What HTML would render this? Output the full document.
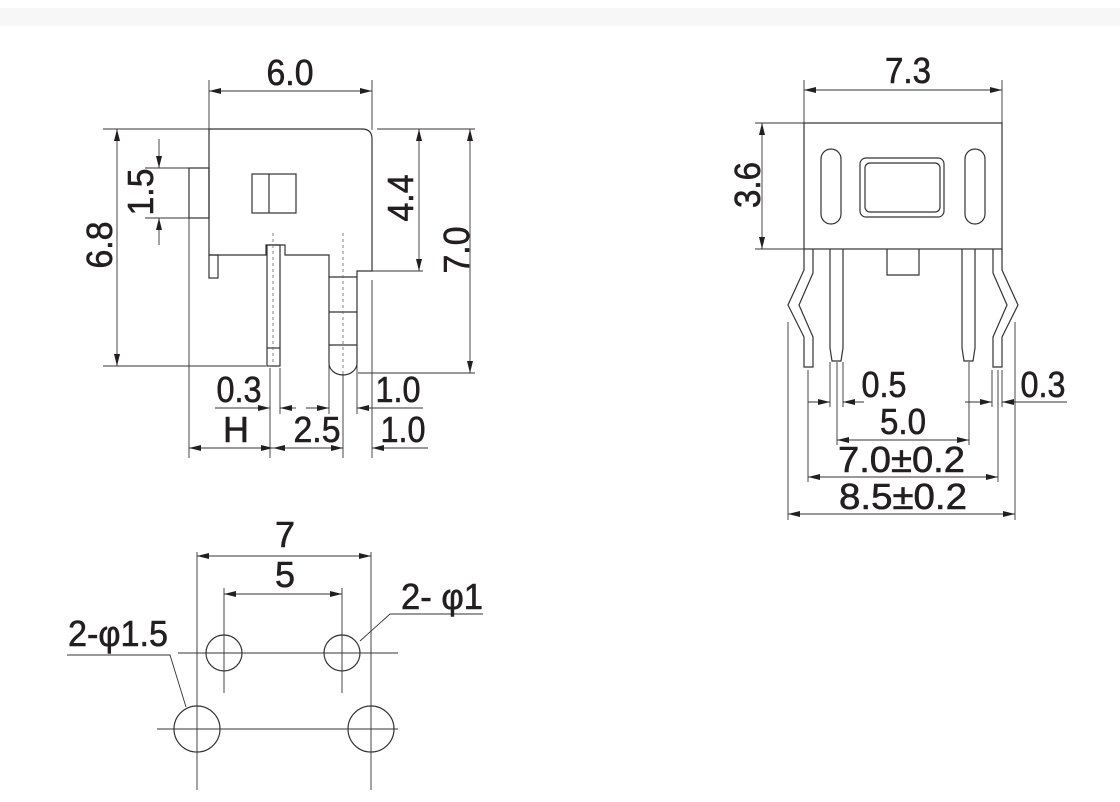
<!DOCTYPE html>
<html><head><meta charset="utf-8"><style>
html,body{margin:0;padding:0;background:#fff;}
svg{display:block;}
text{font-family:"Liberation Sans",sans-serif;font-size:36px;fill:#231f20;stroke:#231f20;stroke-width:0.6;}
</style></head><body>
<svg width="1120" height="802" viewBox="0 0 1120 802" xmlns="http://www.w3.org/2000/svg">
<defs>
<marker id="a" viewBox="0 0 12 6" refX="12" refY="3" markerWidth="12" markerHeight="6" markerUnits="userSpaceOnUse" orient="auto-start-reverse">
<path d="M0,0 L12,3 L0,6 z" fill="#231f20"/></marker>
</defs>
<rect x="0" y="8" width="1120" height="18" fill="#f7f7f7"/>
<g stroke="#333" stroke-width="0.9" fill="none">
<line x1="209" y1="80" x2="209" y2="129"/>
<line x1="372" y1="80" x2="372" y2="130"/>
<line x1="372" y1="280" x2="372" y2="458"/>
<line x1="103" y1="129" x2="209" y2="129"/>
<line x1="103" y1="366" x2="266" y2="366"/>
<line x1="145" y1="168" x2="189" y2="168"/>
<line x1="145" y1="218" x2="189" y2="218"/>
<line x1="377" y1="129" x2="475" y2="129"/>
<line x1="372" y1="271" x2="423" y2="271"/>
<line x1="358" y1="373" x2="475" y2="373"/>
<line x1="189" y1="218" x2="189" y2="458"/>
<line x1="270" y1="368" x2="270" y2="458"/>
<line x1="280" y1="368" x2="280" y2="414"/>
<line x1="329" y1="365" x2="329" y2="414"/>
<line x1="357" y1="365" x2="357" y2="414"/>
<line x1="343" y1="374" x2="343" y2="458"/>
<line x1="209" y1="91" x2="372" y2="91" marker-start="url(#a)" marker-end="url(#a)"/>
<line x1="117" y1="129" x2="117" y2="366" marker-start="url(#a)" marker-end="url(#a)"/>
<line x1="159" y1="139" x2="159" y2="168" marker-end="url(#a)"/>
<line x1="159" y1="245" x2="159" y2="218" marker-end="url(#a)"/>
<line x1="419" y1="129" x2="419" y2="271" marker-start="url(#a)" marker-end="url(#a)"/>
<line x1="470" y1="129" x2="470" y2="373" marker-start="url(#a)" marker-end="url(#a)"/>
<line x1="215" y1="408" x2="270" y2="408" marker-end="url(#a)"/>
<line x1="296" y1="408" x2="280" y2="408" marker-end="url(#a)"/>
<line x1="306" y1="408" x2="329" y2="408" marker-end="url(#a)"/>
<line x1="423" y1="408" x2="357" y2="408" marker-end="url(#a)"/>
<line x1="189" y1="448" x2="273" y2="448" marker-start="url(#a)" marker-end="url(#a)"/>
<line x1="273" y1="448" x2="343" y2="448" marker-start="url(#a)" marker-end="url(#a)"/>
<line x1="428" y1="448" x2="372" y2="448" marker-end="url(#a)"/>
</g>
<g stroke="#333" stroke-width="1.2" fill="none">
<path d="M209,255 L209,129 L362,129 Q372,129 372,139 L372,271 L357,271 L357,277"/>
<path d="M209,255 L266,255 L266,245 L285,245 L285,255 L329,255 L329,277"/>
<rect x="209" y="255" width="9" height="23"/>
<rect x="189" y="168" width="20" height="50"/>
<rect x="252" y="174" width="44" height="39"/>
<line x1="269" y1="174" x2="269" y2="213"/>
<rect x="267" y="245" width="13" height="121"/>
<line x1="267" y1="348" x2="280" y2="348"/>
<path d="M329,277 L357,277 L357,363 A14,12 0 0 1 329,363 Z"/>
<line x1="329" y1="312" x2="357" y2="312"/>
<line x1="329" y1="345" x2="357" y2="345"/>
</g>
<g stroke="#666" stroke-width="0.8" stroke-dasharray="3,3" fill="none">
<line x1="273" y1="233" x2="273" y2="366"/>
<line x1="343" y1="233" x2="343" y2="374"/>
</g>
<text x="290" y="85" text-anchor="middle" textLength="47" lengthAdjust="spacingAndGlyphs">6.0</text>
<text transform="translate(112,245) rotate(-90)" text-anchor="middle" textLength="47" lengthAdjust="spacingAndGlyphs">6.8</text>
<text transform="translate(153,192) rotate(-90)" text-anchor="middle" textLength="47" lengthAdjust="spacingAndGlyphs">1.5</text>
<text transform="translate(413,198) rotate(-90)" text-anchor="middle" textLength="47" lengthAdjust="spacingAndGlyphs">4.4</text>
<text transform="translate(469,250) rotate(-90)" text-anchor="middle" textLength="47" lengthAdjust="spacingAndGlyphs">7.0</text>
<text x="239" y="402" text-anchor="middle" textLength="45" lengthAdjust="spacingAndGlyphs">0.3</text>
<text x="398" y="402" text-anchor="middle" textLength="45" lengthAdjust="spacingAndGlyphs">1.0</text>
<text x="236" y="442" text-anchor="middle">H</text>
<text x="317" y="442" text-anchor="middle" textLength="47" lengthAdjust="spacingAndGlyphs">2.5</text>
<text x="403" y="442" text-anchor="middle" textLength="45" lengthAdjust="spacingAndGlyphs">1.0</text>

<g stroke="#333" stroke-width="0.9" fill="none">
<line x1="804" y1="80" x2="804" y2="123"/>
<line x1="1002" y1="80" x2="1002" y2="123"/>
<line x1="755" y1="123" x2="804" y2="123"/>
<line x1="755" y1="249" x2="804" y2="249"/>
<line x1="788" y1="322" x2="788" y2="520"/>
<line x1="1015" y1="322" x2="1015" y2="520"/>
<line x1="808" y1="370" x2="808" y2="482"/>
<line x1="998" y1="370" x2="998" y2="482"/>
<line x1="837" y1="362" x2="837" y2="445"/>
<line x1="969" y1="362" x2="969" y2="445"/>
<line x1="830" y1="362" x2="830" y2="407"/>
<line x1="843" y1="362" x2="843" y2="407"/>
<line x1="992" y1="370" x2="992" y2="407"/>
<line x1="1002" y1="370" x2="1002" y2="407"/>
<line x1="804" y1="90" x2="1002" y2="90" marker-start="url(#a)" marker-end="url(#a)"/>
<line x1="762" y1="123" x2="762" y2="249" marker-start="url(#a)" marker-end="url(#a)"/>
<line x1="808" y1="402" x2="830" y2="402" marker-end="url(#a)"/>
<line x1="864" y1="402" x2="843" y2="402" marker-end="url(#a)"/>
<line x1="965" y1="402" x2="992" y2="402" marker-end="url(#a)"/>
<line x1="1067" y1="402" x2="1002" y2="402" marker-end="url(#a)"/>
<line x1="837" y1="440" x2="969" y2="440" marker-start="url(#a)" marker-end="url(#a)"/>
<line x1="808" y1="477" x2="998" y2="477" marker-start="url(#a)" marker-end="url(#a)"/>
<line x1="788" y1="514" x2="1015" y2="514" marker-start="url(#a)" marker-end="url(#a)"/>
</g>
<g stroke="#333" stroke-width="1.2" fill="none">
<rect x="804" y="123" width="198" height="126"/>
<rect x="821" y="149" width="20" height="75" rx="10"/>
<rect x="965" y="149" width="20" height="75" rx="10"/>
<rect x="860" y="158" width="84" height="59" rx="6"/>
<rect x="865" y="163" width="75" height="49" rx="5"/>
<path d="M887,249 L887,275 L919,275 L919,249"/>
<path d="M804,249 L804,270 L788,305 L804,337 L804,367 L813,367 L813,337 L799,305 L813,273 L813,249"/>
<path d="M1002,249 L1002,270 L1018,305 L1002,337 L1002,367 L993,367 L993,337 L1007,305 L993,273 L993,249"/>
<path d="M830,249 L830,348 L832,361 L841,361 L843,348 L843,249"/>
<path d="M962,249 L962,348 L964,361 L973,361 L975,348 L975,249"/>
</g>
<text x="908" y="83" text-anchor="middle" textLength="46" lengthAdjust="spacingAndGlyphs">7.3</text>
<text transform="translate(760,185) rotate(-90)" text-anchor="middle" textLength="46" lengthAdjust="spacingAndGlyphs">3.6</text>
<text x="884" y="397" text-anchor="middle" textLength="45" lengthAdjust="spacingAndGlyphs">0.5</text>
<text x="1043" y="397" text-anchor="middle" textLength="45" lengthAdjust="spacingAndGlyphs">0.3</text>
<text x="903" y="434" text-anchor="middle" textLength="46" lengthAdjust="spacingAndGlyphs">5.0</text>
<text x="838" y="472" textLength="127" lengthAdjust="spacingAndGlyphs">7.0±0.2</text>
<text x="839" y="509" textLength="128" lengthAdjust="spacingAndGlyphs">8.5±0.2</text>

<g stroke="#333" stroke-width="0.9" fill="none">
<line x1="197" y1="552" x2="197" y2="790"/>
<line x1="371" y1="552" x2="371" y2="790"/>
<line x1="224" y1="588" x2="224" y2="693"/>
<line x1="342" y1="588" x2="342" y2="693"/>
<line x1="178" y1="653" x2="398" y2="653"/>
<line x1="157" y1="729" x2="398" y2="729"/>
<line x1="197" y1="556" x2="371" y2="556" marker-start="url(#a)" marker-end="url(#a)"/>
<line x1="224" y1="594" x2="342" y2="594" marker-start="url(#a)" marker-end="url(#a)"/>
<polyline points="483,614 390,614 360,641"/>
<polyline points="67,655 170,655 186,707"/>
</g>
<g stroke="#333" stroke-width="1.2" fill="none">
<circle cx="224" cy="653" r="18"/>
<circle cx="342" cy="653" r="18"/>
<circle cx="197" cy="729" r="23"/>
<circle cx="371" cy="729" r="23"/>
</g>
<text x="285" y="547" text-anchor="middle">7</text>
<text x="285" y="587" text-anchor="middle">5</text>
<text x="401" y="609" textLength="82" lengthAdjust="spacingAndGlyphs">2- φ1</text>
<text x="68" y="646" textLength="100" lengthAdjust="spacingAndGlyphs">2-φ1.5</text>
</svg>
</body></html>
